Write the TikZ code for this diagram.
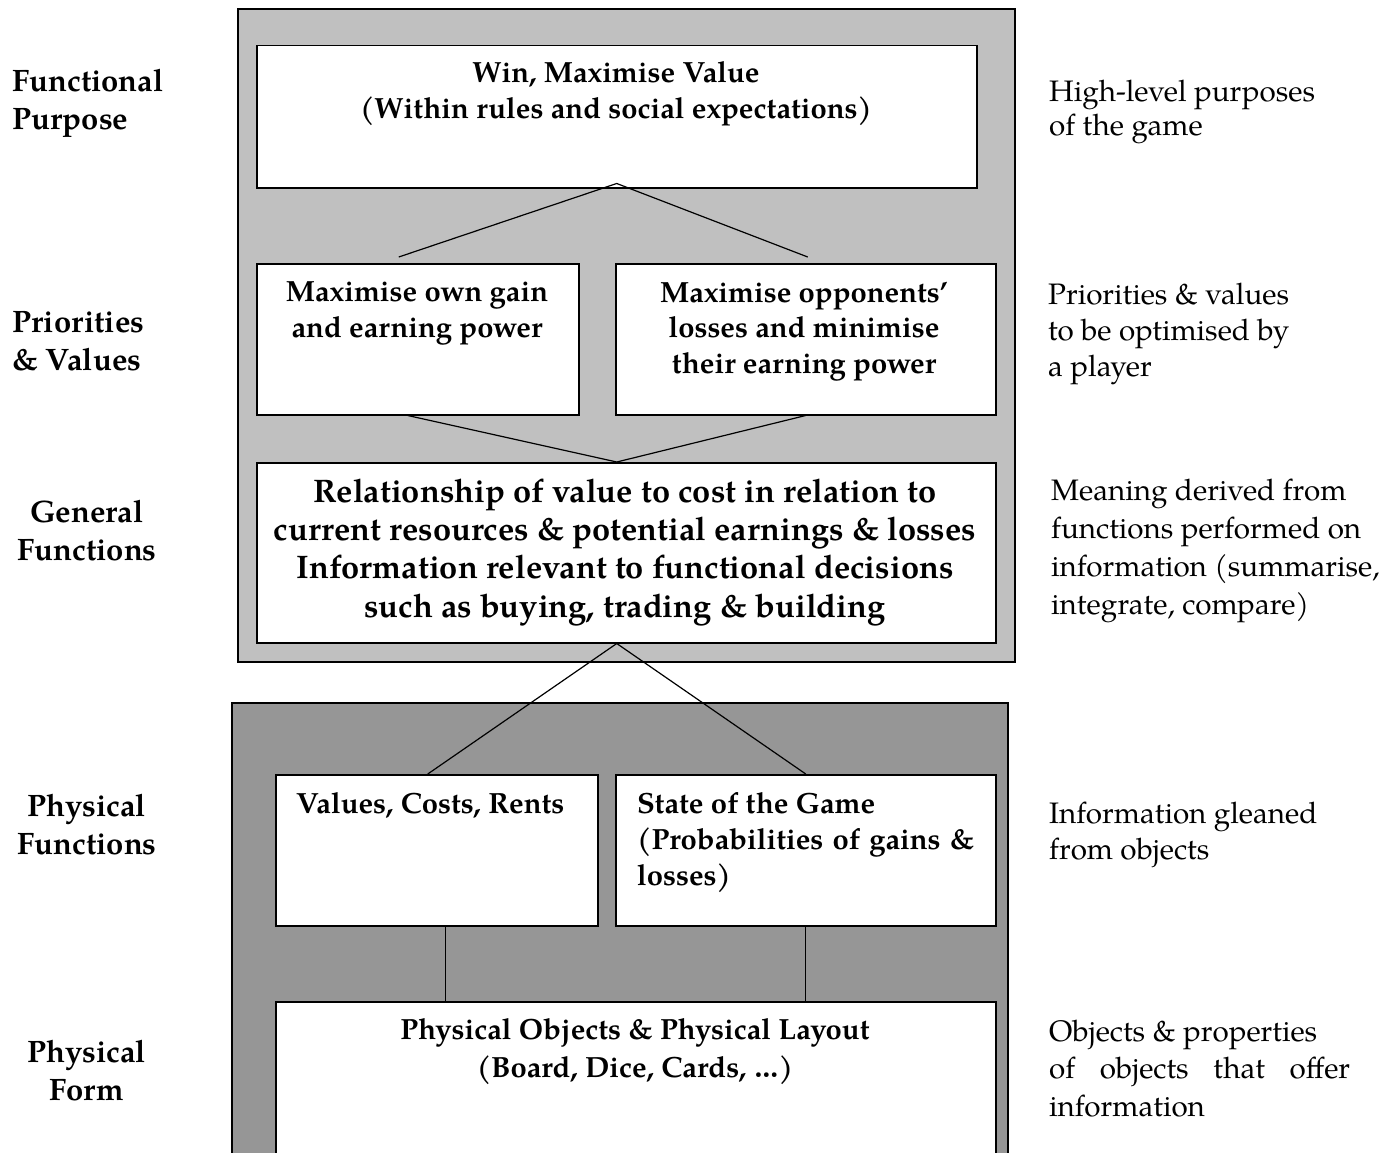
\documentclass[tikz,border=0pt]{standalone}
\usepackage{fontspec}
\setmainfont{texgyrepagella}[Extension=.otf, UprightFont=*-regular, BoldFont=*-bold]
\newfontfamily\boxfont{texgyrepagella}[Extension=.otf, UprightFont=*-bold]
\newfontfamily\notefont{texgyrepagella}[Extension=.otf, UprightFont=*-regular]
\definecolor{upperpanel}{HTML}{C0C0C0}
\definecolor{lowerpanel}{HTML}{969696}
% multi-line nodes are anchored on the baseline of their last line
\tikzset{
  panel/.style={draw=black, line width=1.8pt, inner sep=0pt, anchor=north west},
  box/.style={draw=black, fill=white, line width=1.5pt, inner sep=0pt, anchor=north west},
  link/.style={line width=1.2pt},
  boxtxt/.style={font=\boxfont\fontsize{29.2}{36}\selectfont, align=center, anchor=base, inner sep=0pt},
  gentxt/.style={font=\boxfont\fontsize{32.6}{38.3}\selectfont, align=center, anchor=base, inner sep=0pt},
  leveltxt/.style={font=\boxfont\fontsize{31}{38}\selectfont, inner sep=0pt},
  notetxt/.style={font=\notefont\fontsize{29.6}{36.5}\selectfont, align=left, anchor=base west, inner sep=0pt}
}
\begin{document}
\begin{tikzpicture}[x=1pt, y=-1pt]
\useasboundingbox (0,0) rectangle (1379,1153);
\clip (0,0) rectangle (1379,1153);

% abstraction layers
\node[panel, fill=upperpanel, minimum width=777pt, minimum height=653pt] (upper) at (237,8) {};
\node[panel, fill=lowerpanel, minimum width=776pt, minimum height=480pt] (lower) at (231,702) {};

% boxes
\node[box, minimum width=720pt, minimum height=142pt] (win) at (256,45) {};
\node[box, minimum width=322pt, minimum height=151pt] (own) at (256,263) {};
\node[box, minimum width=380pt, minimum height=151pt] (opp) at (615,263) {};
\node[box, minimum width=739pt, minimum height=180pt] (gen) at (256,462) {};
\node[box, minimum width=322pt, minimum height=151pt] (vcr) at (275,774) {};
\node[box, minimum width=380pt, minimum height=151pt] (state) at (615,774) {};
\node[box, minimum width=720pt, minimum height=180pt] (form) at (275,1001) {};

% box texts
\node[boxtxt] (wintxt) at (616,119) {Win, Maximise Value\\(Within rules and social expectations)};
\node[boxtxt] (owntxt) at (417,337) {Maximise own gain\\and earning power};
\node[boxtxt, font=\boxfont\fontsize{29.2}{35.5}\selectfont] (opptxt) at (804,373) {Maximise opponents’\\losses and minimise\\their earning power};
\node[gentxt] (gentext) at (625,617) {Relationship of value to cost in relation to\\current resources \& potential earnings \& losses\\Information relevant to functional decisions\\such as buying, trading \& building};
\node[boxtxt, anchor=base west] (vcrtxt) at (296,813) {Values, Costs, Rents};
\node[boxtxt, anchor=base west, align=left] (statetxt) at (637,885) {State of the Game\\\makebox[337pt][s]{(Probabilities of gains \&}\\losses)};
\node[boxtxt, font=\boxfont\fontsize{29.2}{38}\selectfont] (formtxt) at (635,1077) {Physical Objects \& Physical Layout\\(Board, Dice, Cards, …)};

% connectors
\coordinate (winapex) at ([yshift=5pt]win.south);
\coordinate (ownup) at ([xshift=-19pt, yshift=6pt]own.north);
\coordinate (oppup) at ([xshift=2pt, yshift=6pt]opp.north);
\draw[link] (ownup) -- (winapex) -- (oppup);
\coordinate (owndown) at ([xshift=-10pt]own.south);
\coordinate (genapex) at ([xshift=-9.5pt]gen.north);
\draw[link] (owndown) -- (genapex) -- (opp.south);
\coordinate (genbase) at ([xshift=-9.5pt]gen.south);
\coordinate (vcrup) at ([xshift=-9pt]vcr.north);
\draw[link] (vcrup) -- (genbase) -- (state.north);
\coordinate (vcrdown) at ([xshift=9pt]vcr.south);
\draw[link] (vcrdown) -- (vcrdown |- form.north);
\draw[link] (state.south) -- (state.south |- form.north);

% level names
\node[leveltxt, align=left, anchor=base west] (fp) at (12,130) {Functional\\Purpose};
\node[leveltxt, align=left, anchor=base west] (pv) at (12,370) {Priorities\\\& Values};
\node[leveltxt, align=center, anchor=base] (gf) at (87,560) {General\\Functions};
\node[leveltxt, align=center, anchor=base] (pf) at (87,854) {Physical\\Functions};
\node[leveltxt, align=center, anchor=base] (pform) at (87,1100) {Physical\\Form};

% level descriptions
\node[notetxt, font=\notefont\fontsize{29.6}{35}\selectfont] (fpnote) at (1049,136) {High-level purposes\\of the game};
\node[notetxt, font=\notefont\fontsize{29.6}{36}\selectfont] (pvnote) at (1048,376) {Priorities \& values\\to be optimised by\\a player};
\node[notetxt, font=\notefont\fontsize{29.6}{37.7}\selectfont] (gfnote) at (1051,614) {Meaning derived from\\functions performed on\\information (summarise,\\integrate, compare)};
\node[notetxt, font=\notefont\fontsize{29.6}{36}\selectfont] (pfnote) at (1049,859) {Information gleaned\\from objects};
\node[notetxt, font=\notefont\fontsize{29.6}{37.5}\selectfont] (formnote) at (1049,1116) {Objects \& properties\\\makebox[301pt][s]{of objects that offer}\\information};
\end{tikzpicture}
\end{document}
